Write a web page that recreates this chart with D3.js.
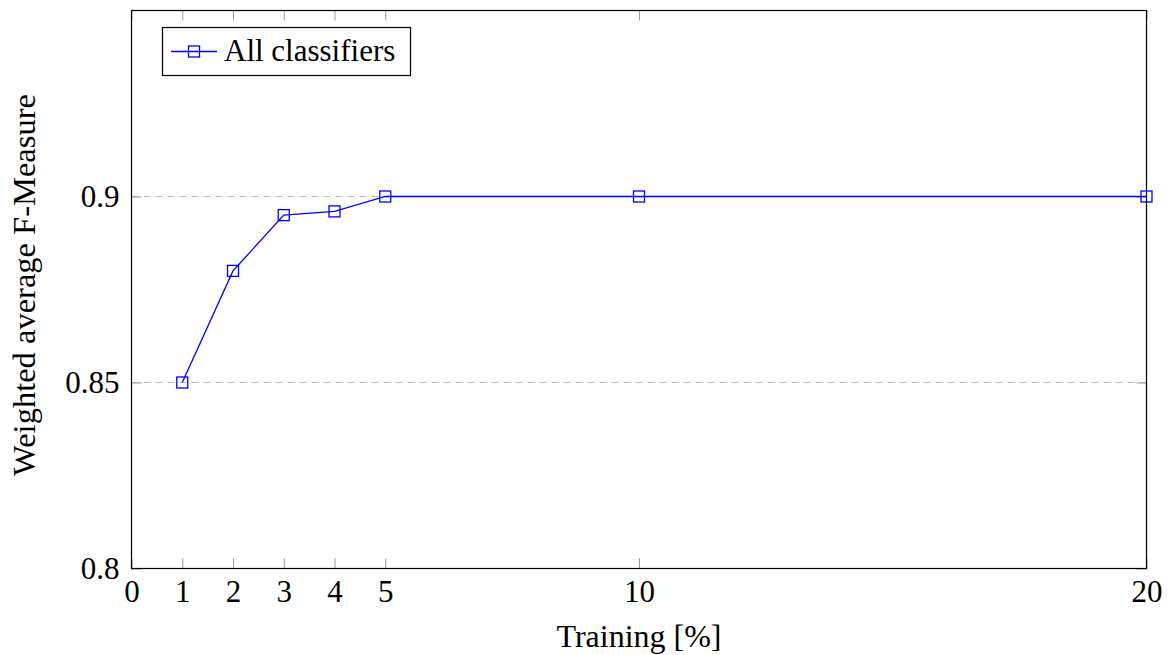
<!DOCTYPE html>
<html>
<head>
<meta charset="utf-8">
<script src="https://cdn.jsdelivr.net/npm/d3@7"></script>
<style>
  body { margin: 0; background: #fff; }
  text { font-family: "Liberation Serif", "Times New Roman", serif; fill: #000; }
</style>
</head>
<body>
<script>
var w = 1174;
var h = 655;

// data
var trainingPct = [1, 2, 3, 4, 5, 10, 20];
var fMeasure = [0.85, 0.88, 0.895, 0.896, 0.9, 0.9, 0.9];
var seriesName = "All classifiers";
var xTicks = [0, 1, 2, 3, 4, 5, 10, 20];
var yTicks = [0.8, 0.85, 0.9];
var yTickLabels = ["0.8", "0.85", "0.9"];
var yGrid = [0.85, 0.9];

// plot frame (note: "top" is reserved on window, so use px prefixes)
var pxLeft = 131.5, pxRight = 1146.5, pxTop = 10.5, pxBottom = 568.5;

var svg = d3.select("body")
    .append("svg")
    .attr("width", w)
    .attr("height", h);

var xScale = d3.scaleLinear()
    .domain([0, 20])
    .range([pxLeft, pxRight]);

var yScale = d3.scaleLinear()
    .domain([0.8, 0.95])
    .range([pxBottom, pxTop]);

// dashed horizontal grid
svg.selectAll("line.grid")
    .data(yGrid)
    .enter()
    .append("line")
    .attr("class", "grid")
    .attr("x1", pxLeft)
    .attr("x2", pxRight)
    .attr("y1", d => yScale(d))
    .attr("y2", d => yScale(d))
    .attr("stroke", "#bdbdbd")
    .attr("stroke-width", 1)
    .attr("stroke-dasharray", "7,5");

function styleAxis(g) {
    g.select(".domain").remove();
    g.selectAll(".tick line").attr("stroke", "#999").attr("stroke-width", 1);
    g.selectAll(".tick text")
        .style("font-family", '"Liberation Serif", "Times New Roman", serif')
        .style("font-size", "31px")
        .attr("fill", "#000");
}

//Create X axis (bottom, ticks pointing in)
svg.append("g")
    .attr("transform", "translate(0," + pxBottom + ")")
    .call(d3.axisBottom(xScale).tickValues(xTicks).tickSizeInner(-10).tickSizeOuter(0).tickPadding(11).tickFormat(d3.format("d")))
    .call(styleAxis);

// top ticks, no labels
svg.append("g")
    .attr("transform", "translate(0," + pxTop + ")")
    .call(d3.axisTop(xScale).tickValues(xTicks).tickSizeInner(-10).tickSizeOuter(0).tickFormat(""))
    .call(styleAxis);

//Create Y axis
svg.append("g")
    .attr("transform", "translate(" + pxLeft + ",0)")
    .call(d3.axisLeft(yScale).tickValues(yTicks).tickSizeInner(-10).tickSizeOuter(0).tickPadding(12)
        .tickFormat((d, i) => yTickLabels[i]))
    .call(styleAxis);

svg.append("g")
    .attr("transform", "translate(" + pxRight + ",0)")
    .call(d3.axisRight(yScale).tickValues(yTicks).tickSizeInner(-10).tickSizeOuter(0).tickFormat(""))
    .call(styleAxis);

// frame
svg.append("rect")
    .attr("x", pxLeft)
    .attr("y", pxTop)
    .attr("width", pxRight - pxLeft)
    .attr("height", pxBottom - pxTop)
    .attr("fill", "none")
    .attr("stroke", "#000")
    .attr("stroke-width", 1.2);

// line + square markers
var line = d3.line()
    .x((d, i) => xScale(trainingPct[i]))
    .y(d => yScale(d));

svg.append("path")
    .datum(fMeasure)
    .attr("d", line)
    .attr("fill", "none")
    .attr("stroke", "#0000ff")
    .attr("stroke-width", 1.3);

var m = 11;
svg.selectAll("rect.marker")
    .data(fMeasure)
    .enter()
    .append("rect")
    .attr("class", "marker")
    .attr("x", (d, i) => xScale(trainingPct[i]) - m / 2)
    .attr("y", d => yScale(d) - m / 2)
    .attr("width", m)
    .attr("height", m)
    .attr("fill", "none")
    .attr("stroke", "#0000ff")
    .attr("stroke-width", 1.3);

// legend
var legend = svg.append("g");
legend.append("rect")
    .attr("x", 162.5)
    .attr("y", 27.5)
    .attr("width", 248)
    .attr("height", 48)
    .attr("fill", "#fff")
    .attr("stroke", "#000")
    .attr("stroke-width", 1.2);
legend.append("line")
    .attr("x1", 171)
    .attr("x2", 217)
    .attr("y1", 51.5)
    .attr("y2", 51.5)
    .attr("stroke", "#0000ff")
    .attr("stroke-width", 1.3);
legend.append("rect")
    .attr("x", 194 - m / 2)
    .attr("y", 51.5 - m / 2)
    .attr("width", m)
    .attr("height", m)
    .attr("fill", "none")
    .attr("stroke", "#0000ff")
    .attr("stroke-width", 1.3);
legend.append("text")
    .attr("x", 224)
    .attr("y", 61)
    .style("font-size", "31px")
    .text(seriesName);

// axis titles
svg.append("text")
    .attr("x", (pxLeft + pxRight) / 2)
    .attr("y", 647)
    .attr("text-anchor", "middle")
    .style("font-size", "32px")
    .text("Training [%]");

svg.append("text")
    .attr("transform", "translate(35,285) rotate(-90)")
    .attr("text-anchor", "middle")
    .style("font-size", "32.5px")
    .text("Weighted average F-Measure");
</script>
</body>
</html>
